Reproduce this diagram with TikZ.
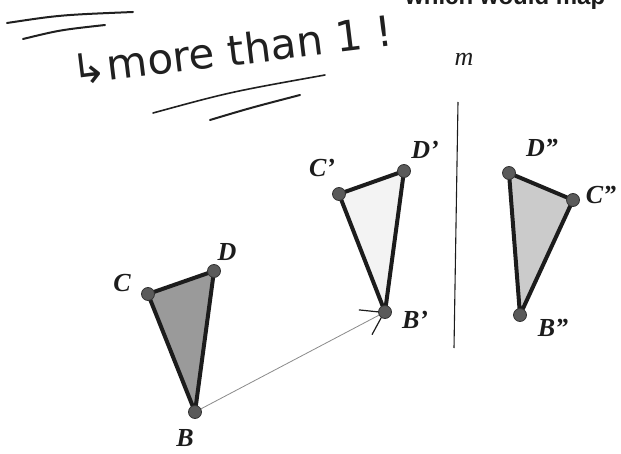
\documentclass[tikz,border=0pt]{standalone}
\usepackage{fontspec}
\setmainfont{Liberation Serif}
\newfontfamily\handfont{DejaVu Sans}
\newfontfamily\printfont{Liberation Sans}
\usetikzlibrary{arrows.meta,backgrounds}
\definecolor{ink}{HTML}{1C1C1C}
\definecolor{pen}{HTML}{202020}
\definecolor{dotfill}{HTML}{5A5A5A}
\definecolor{dotedge}{HTML}{333333}
\definecolor{vecgray}{HTML}{8A8A8A}
\definecolor{shadeA}{HTML}{9A9A9A}
\definecolor{shadeB}{HTML}{F3F3F3}
\definecolor{shadeC}{HTML}{CBCBCB}
\tikzset{
  pt/.style={circle,draw=dotedge,line width=.8pt,fill=dotfill,minimum size=13pt,inner sep=0pt},
  lbl/.style={font=\bfseries\itshape\fontsize{26}{26}\selectfont,text=ink,inner sep=0pt},
  lblm/.style={font=\itshape\fontsize{26}{26}\selectfont,text=ink,inner sep=0pt},
  print/.style={font=\printfont\bfseries\fontsize{24}{24}\selectfont,text=ink,inner sep=0pt},
  hand/.style={font=\handfont\fontsize{42}{42}\selectfont,text=pen,inner sep=0pt},
  pen/.style={draw=pen,line width=2pt,line cap=round},
  edge/.style={draw=ink,line width=4pt,line join=round},
  vec/.style={draw=vecgray,line width=.8pt,-{Straight Barb[length=21pt,width=28pt,color=ink,line width=1.2pt]}},
  mirror/.style={draw=ink,line width=1.1pt},
}
\begin{document}
\begin{tikzpicture}[x=1pt,y=-1pt]
  \useasboundingbox (0,0) rectangle (621,454);
  \clip (0,0) rectangle (621,454);
  % line of print cut off at the top
  \node[print,anchor=base west] (txt) at (405,5) {which would map};
  % handwritten note
  \node[hand,rotate=7] (note) at (232,50) {↳more than 1 !};
  \draw[pen] (7,23) .. controls (60,15) .. (133,12);
  \draw[pen] (23,39) .. controls (60,30) .. (105,25);
  \draw[pen,line width=1.6pt] (153,113) .. controls (230,92) .. (325,75);
  \draw[pen] (210,120) .. controls (250,108) .. (300,95);
  % mirror line
  \coordinate (mtop) at (458,102);
  \coordinate (mbot) at (454,348);
  \draw[mirror] (mtop) -- (mbot);
  \node[lblm] (m) at (464,59) {m};
  % vertices
  \foreach \n/\x/\y in {B/195/412,C/148/294,D/214/271,Bp/385/312,Cp/339/194,Dp/404/171,Bpp/520/315,Cpp/573/200,Dpp/509/173}
    \node[pt] (\n) at (\x,\y) {};
  \foreach \n/\x/\y/\t in {lB/185/438/B,lC/122/283/C,lD/227/252/D,lBp/415/320/B',lCp/322/168/C',lDp/425/150/D',lBpp/553/328/B'',lCpp/601/195/C'',lDpp/542/148/D''}
    \node[lbl] (\n) at (\x,\y) {\t};
  \begin{scope}[on background layer]
    \fill[shadeA] (B.center) -- (C.center) -- (D.center) -- cycle;
    \fill[shadeB] (Bp.center) -- (Cp.center) -- (Dp.center) -- cycle;
    \fill[shadeC] (Bpp.center) -- (Cpp.center) -- (Dpp.center) -- cycle;
    \draw[edge] (B.center) -- (C.center) -- (D.center) -- cycle;
    \draw[edge] (Bp.center) -- (Cp.center) -- (Dp.center) -- cycle;
    \draw[edge] (Bpp.center) -- (Cpp.center) -- (Dpp.center) -- cycle;
    \draw[vec] (B.center) -- (Bp.center);
  \end{scope}
\end{tikzpicture}
\end{document}
